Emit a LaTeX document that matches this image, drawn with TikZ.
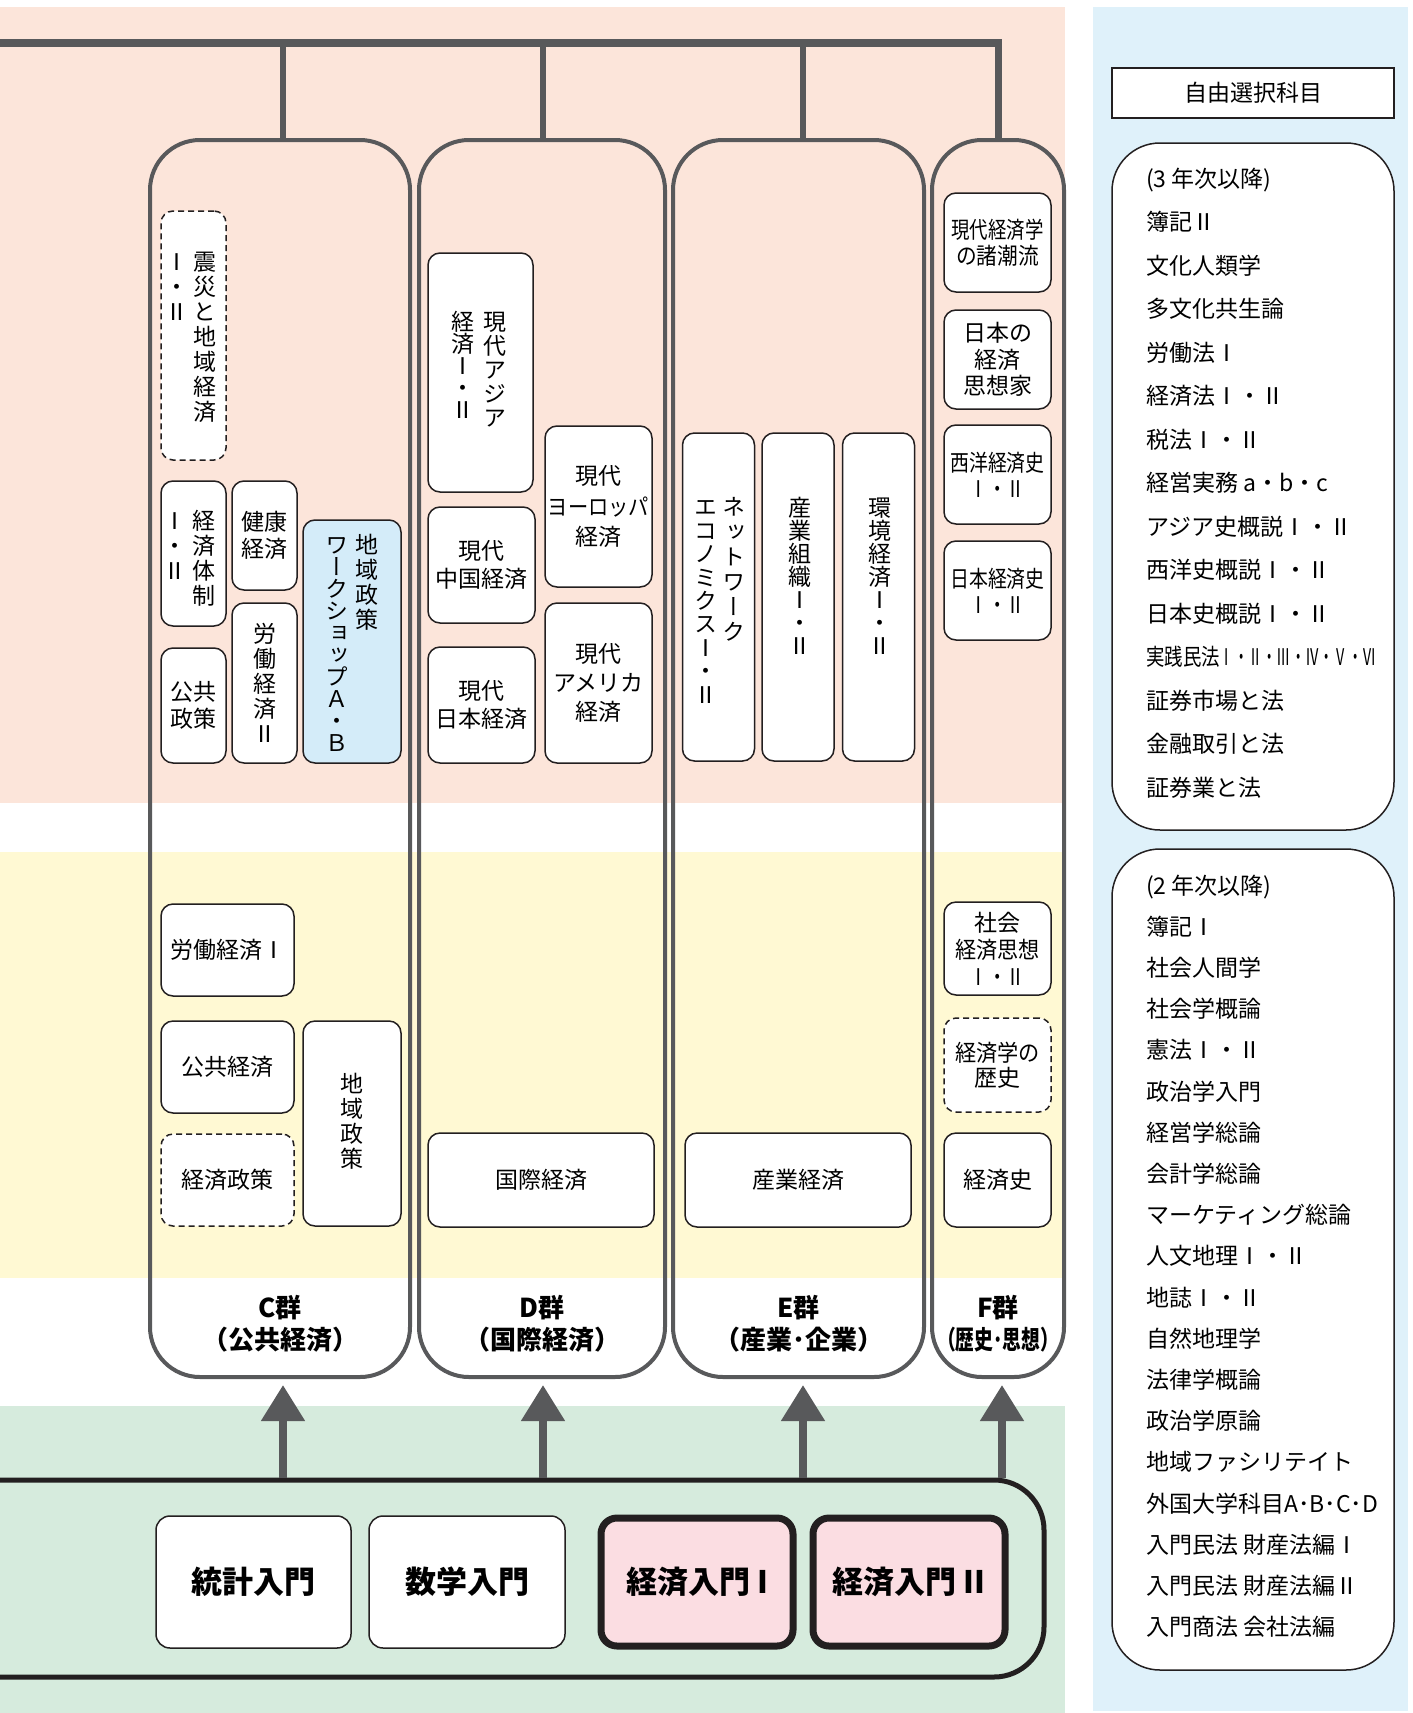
\documentclass[tikz,border=0pt]{standalone}
\usepackage{fontspec}
\usepackage{graphicx}
\setmainfont{Noto Sans CJK JP}
\newfontfamily\vertjp[RawFeature={+vert}]{Noto Sans CJK JP}
\usetikzlibrary{arrows.meta}
\definecolor{bgpink}{HTML}{FCE5DA}
\definecolor{bgyellow}{HTML}{FFF9D3}
\definecolor{bggreen}{HTML}{D6EBDD}
\definecolor{bgblue}{HTML}{DFF1FA}
\definecolor{boxblue}{HTML}{D4ECF9}
\definecolor{boxpink}{HTML}{FBDDE2}
\definecolor{dgray}{HTML}{58595B}
\definecolor{ink}{HTML}{231F20}
\ExplSyntaxOn
\dim_new:N \l_vs_h_dim
\dim_new:N \l_vs_d_dim
\NewDocumentCommand\vstack{O{24}m}
 {
  \dim_set:Nn \l_vs_h_dim {(#1pt + 17.4pt)/2}
  \dim_set:Nn \l_vs_d_dim {(#1pt - 17.4pt)/2}
  \vtop{\offinterlineskip
    \tl_map_inline:nn {#2}
     { \hbox{\vrule height \l_vs_h_dim depth \l_vs_d_dim width 0pt \hbox_to_wd:nn {23pt} {\hss\smash{##1}\hss}} }
  }
 }
\ExplSyntaxOff
\newcommand\cx[2]{\scalebox{#1}[1]{#2}}
\tikzset{
  subj/.style={draw=ink, line width=1.5pt, fill=white, rounded corners=12pt, inner sep=0pt,
    font=\fontsize{23}{27}\selectfont, align=center},
  dsubj/.style={subj, dash pattern=on 6pt off 4pt},
  vtxt/.style={inner sep=0pt, font=\vertjp\fontsize{23}{23}\selectfont, anchor=north},
  grpbox/.style={draw=dgray, line width=4pt, rounded corners=50pt, inner sep=0pt},
  glabel/.style={font=\bfseries\fontsize{26}{32}\selectfont, align=center, inner sep=0pt},
  topbar/.style={draw=dgray, line width=8pt},
  dropline/.style={draw=dgray, line width=6.5pt},
  uparrow/.style={draw=dgray, line width=8pt, -{Triangle[width=42pt,length=36pt]}, shorten >=6pt},
  basebox/.style={draw=ink, line width=5pt, rounded corners=50pt, inner sep=0pt},
  bsubj/.style={draw=ink, line width=1.5pt, fill=white, rounded corners=14pt, inner sep=0pt,
    font=\bfseries\fontsize{31}{36}\selectfont},
  bkey/.style={draw=ink, line width=7pt, fill=boxpink, rounded corners=16pt, inner sep=0pt,
    font=\bfseries\fontsize{31}{36}\selectfont},
  listbox/.style={draw=ink, line width=1.5pt, fill=white, rounded corners=48pt, inner sep=0pt},
  ltxt/.style={anchor=base west, inner sep=0pt, font=\fontsize{23}{27}\selectfont},
}
\begin{document}
\begin{tikzpicture}[x=1pt,y=-1pt]
\useasboundingbox (0,0) rectangle (1413,1713);
\clip (0,0) rectangle (1413,1713);
% background bands
\fill[bgpink] (0,7) rectangle (1065,803);
\fill[bgyellow] (0,852) rectangle (1065,1278);
\fill[bggreen] (0,1406) rectangle (1065,1713);
\fill[bgblue] (1093,7) rectangle (1408,1711);

% group boxes
\node[grpbox, minimum width=260, minimum height=1237] (cg) at (280,758.5) {};
\node[grpbox, minimum width=246, minimum height=1237] (dg) at (542,758.5) {};
\node[grpbox, minimum width=251, minimum height=1237] (eg) at (798.5,758.5) {};
\node[grpbox, minimum width=132, minimum height=1237] (fg) at (998,758.5) {};

\node[glabel] (cl) at (280,1324) {C群\\（公共経済）};
\node[glabel] (dl) at (542,1324) {D群\\（国際経済）};
\node[glabel] (el) at (798.5,1324) {E群\\（産業･企業）};
\node[glabel] (fl) at (998,1324) {F群\\\cx{0.72}{（歴史･思想）}};

% top bar and drops
\coordinate (tL) at (0,43);
\coordinate (tC) at (283,43);
\coordinate (tD) at (543,43);
\coordinate (tE) at (803,43);
\coordinate (tF) at (998.5,43);
\coordinate (aF) at (1002,43);
\draw[topbar] (tL) -- ([xshift=3.25pt]tF);
\foreach \g/\t in {cg/tC, dg/tD, eg/tE, fg/tF} \draw[dropline] (\t) -- (\t |- \g.north);

% base box
\node[basebox, minimum width=1104, minimum height=197] (base) at (492,1578.5) {};
\foreach \g/\t in {cg/tC, dg/tD, eg/tE, fg/aF} \draw[uparrow] (\t |- base.north) -- (\t |- \g.south);

\node[bsubj, minimum width=195, minimum height=132] (b1) at (253.5,1582) {統計入門};
\node[bsubj, minimum width=196, minimum height=132] (b2) at (467,1582) {数学入門};
\node[bkey, minimum width=192, minimum height=128] (b3) at (697,1582) {経済入門 I};
\node[bkey, minimum width=192, minimum height=128] (b4) at (909,1582) {経済入門 II};

% C group
\node[dsubj, minimum width=65, minimum height=249] (c1) at (193.5,335.5) {};
\node[vtxt] (c1t) at (191,249.5) {\vstack[25]{Ⅰ・Ⅱ}\hspace{5pt}\vstack[25]{震災と地域経済}};
\node[subj, minimum width=65, minimum height=145] (c2) at (193.5,553.5) {};
\node[vtxt] (c2t) at (189,508.5) {\vstack[25]{Ⅰ・Ⅱ}\hspace{6pt}\vstack[25]{経済体制}};
\node[subj, minimum width=65, minimum height=109] (c3) at (264.5,535.5) {健康\\経済};
\node[subj, minimum width=65, minimum height=115] (c4) at (193.5,705.5) {公共\\政策};
\node[subj, minimum width=65, minimum height=160] (c5) at (264.5,683) {};
\node[vtxt] (c5t) at (264.5,621.5) {\vstack[25]{労働経済Ⅱ}};
\node[subj, fill=boxblue, minimum width=98, minimum height=243] (c6) at (352,641.5) {};
\node[vtxt] (c6t) at (352,532.5) {\vstack[22]{ワークショップＡ・Ｂ}\hspace{7pt}\vstack[25]{地域政策}};
\node[subj, minimum width=133, minimum height=92] (c7) at (227.5,950) {労働経済Ⅰ};
\node[subj, minimum width=133, minimum height=92] (c8) at (227.5,1067) {公共経済};
\node[dsubj, minimum width=133, minimum height=92] (c9) at (227.5,1180) {経済政策};
\node[subj, minimum width=98, minimum height=205] (c10) at (352,1123.5) {};
\node[vtxt] (c10t) at (352,1071.5) {\vstack[25]{地域政策}};

% D group
\node[subj, minimum width=105, minimum height=239] (d1) at (480.5,372.5) {};
\node[vtxt] (d1t) at (479,310) {\vstack[22]{経済Ⅰ・Ⅱ}\hspace{9pt}\vstack[24]{現代アジア}};
\node[subj, minimum width=107, minimum height=161, font=\fontsize{23}{30.5}\selectfont] (d2) at (598.5,506.5) {現代\\\cx{0.88}{ヨーロッパ}\\経済};
\node[subj, minimum width=107, minimum height=116, font=\fontsize{23}{28}\selectfont] (d3) at (481.5,565) {現代\\中国経済};
\node[subj, minimum width=107, minimum height=116, font=\fontsize{23}{28}\selectfont] (d4) at (481.5,705) {現代\\日本経済};
\node[subj, minimum width=107, minimum height=160, font=\fontsize{23}{29}\selectfont] (d5) at (598.5,683) {現代\\アメリカ\\経済};
\node[subj, minimum width=226, minimum height=94] (d6) at (541,1180) {国際経済};

% E group
\node[subj, minimum width=72, minimum height=328] (e1) at (718.5,597) {};
\node[vtxt] (e1t) at (720,494.5) {\vstack[23.4]{エコノミクスⅠ・Ⅱ}\hspace{5.5pt}\vstack[25]{ネットワーク}};
\node[subj, minimum width=72, minimum height=328] (e2) at (798,597) {};
\node[vtxt] (e2t) at (800,496.5) {\vstack[23]{産業組織Ⅰ・Ⅱ}};
\node[subj, minimum width=72, minimum height=328] (e3) at (878.5,597) {};
\node[vtxt] (e3t) at (880,496.5) {\vstack[23]{環境経済Ⅰ・Ⅱ}};
\node[subj, minimum width=226, minimum height=94] (e4) at (798,1180) {産業経済};

% F group
\node[subj, minimum width=107, minimum height=99, font=\fontsize{23}{26}\selectfont] (f1) at (997.5,242.5) {\cx{0.8}{現代経済学}\\\cx{0.9}{の諸潮流}};
\node[subj, minimum width=107, minimum height=99, font=\fontsize{23}{26.5}\selectfont] (f2) at (997.5,359.5) {日本の\\経済\\思想家};
\node[subj, minimum width=107, minimum height=99, font=\fontsize{23}{26}\selectfont] (f3) at (997.5,474.5) {\cx{0.82}{西洋経済史}\\\cx{0.8}{Ⅰ・Ⅱ}};
\node[subj, minimum width=107, minimum height=99, font=\fontsize{23}{26}\selectfont] (f4) at (997.5,590.5) {\cx{0.82}{日本経済史}\\\cx{0.8}{Ⅰ・Ⅱ}};
\node[subj, minimum width=107, minimum height=93, font=\fontsize{23}{27}\selectfont] (f5) at (997.5,948.5) {社会\\\cx{0.92}{経済思想}\\\cx{0.8}{Ⅰ・Ⅱ}};
\node[dsubj, minimum width=107, minimum height=94, font=\fontsize{23}{25.5}\selectfont] (f6) at (997.5,1065) {\cx{0.92}{経済学の}\\歴史};
\node[subj, minimum width=107, minimum height=94] (f7) at (997.5,1180) {経済史};

% right panel
\node[draw=ink, line width=1.5pt, fill=white, minimum width=282, minimum height=50, inner sep=0pt,
  font=\fontsize{23}{27}\selectfont] (title) at (1253,93) {自由選択科目};
\node[listbox, minimum width=282, minimum height=687] (lb1) at (1253,486.5) {};
\node[listbox, minimum width=282, minimum height=821] (lb2) at (1253,1259.5) {};
\foreach \t [count=\i from 0] in {(3 年次以降),簿記Ⅱ,文化人類学,多文化共生論,労働法Ⅰ,経済法Ⅰ・Ⅱ,税法Ⅰ・Ⅱ,経営実務 a・b・c,アジア史概説Ⅰ・Ⅱ,西洋史概説Ⅰ・Ⅱ,日本史概説Ⅰ・Ⅱ,{\cx{0.8}{実践民法}\cx{0.62}{Ⅰ・Ⅱ・Ⅲ・Ⅳ・Ⅴ・Ⅵ}},証券市場と法,金融取引と法,証券業と法}
  \node[ltxt] (la\i) at (1146,187+43.5*\i) {\t};
\foreach \t [count=\i from 0] in {(2 年次以降),簿記Ⅰ,社会人間学,社会学概論,憲法Ⅰ・Ⅱ,政治学入門,経営学総論,会計学総論,マーケティング総論,人文地理Ⅰ・Ⅱ,地誌Ⅰ・Ⅱ,自然地理学,法律学概論,政治学原論,地域ファシリテイト,外国大学科目A･B･C･D,入門民法 財産法編Ⅰ,入門民法 財産法編Ⅱ,入門商法 会社法編}
  \node[ltxt] (lb\i) at (1146,894+41.2*\i) {\t};
\end{tikzpicture}
\end{document}
